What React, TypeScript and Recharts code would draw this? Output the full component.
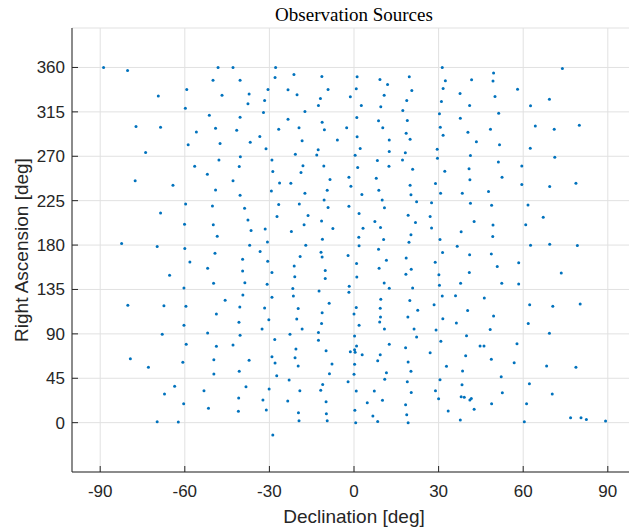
import React from 'react';
import { ScatterChart, Scatter, XAxis, YAxis, CartesianGrid } from 'recharts';

const declination = [
  -88.8, -80.3, -69.4, -77.3, -68.6, -73.9, -59.3, -59.8, -48.2, -42.9,
  -50.0, -40.4, -46.8, -37.2, -37.6, -51.3, -40.4, -55.9, -49.1, -41.6,
  -58.8, -47.5, -36.8, -40.3, -47.9, -56.5, -40.7,
  -27.8, -28.0, -21.3, -11.4, -30.5, -23.4, -20.2, -9.2, -11.9, -12.6,
  -1.3, -31.7, -32.1, -17.4, -23.4, -26.7, -19.5, -11.3, -10.5, -2.6,
  -33.4, -5.9, -18.4, -31.2, -20.8, -12.7, -13.2, -29.1, -18.1, -10.7,
  1.1, 0.8, 9.2, 11.9, 19.6, 20.5, 10.7, 18.7, 2.6, 9.5,
  17.3, 1.0, 8.7, 18.9, 10.2, 18.5, 19.9, 1.1, 12.5, 2.2,
  12.5, 18.2, 0.4, 8.3, 17.2, 1.3, 12.4, 20.8, 29.5, 29.6, 30.3,
  31.3, 32.4, 31.6, 31.0, 30.6, 31.6, 49.5, 41.7, 49.3, 37.6,
  50.0, 58.0, 41.0, 37.7, 51.3, 40.4, 48.4, 43.4, 51.6, 41.3,
  51.2, 40.8, 59.5, 62.5, 71.2, 64.3, 71.0, 79.9, 62.6, 69.3, 73.9,
  -77.6, -64.2, -52.0, -42.9, -49.1, -40.4, -59.7, -50.2, -38.8, -68.6,
  -60.1, -49.9, -37.6, -48.5, -82.4, -69.8, -60.0, -49.3, -58.2, -39.5,
  -51.9, -39.5, -65.4, -49.8, -38.7, -60.3, -39.4, -45.7, -80.2, -67.4,
  -59.6, -40.5, -48.8,
  -28.8, -18.8, -26.4, -22.4, -8.5, -1.8, -1.1, -29.3, -17.4, -9.5,
  -10.6, -26.7, -19.4, -9.2, -1.8, -27.3, -16.3, -11.5, -17.7, -7.5,
  -36.5, -31.5, -22.2, -11.2, -30.7, -37.0, -17.1, -33.3, -11.7, -11.3,
  -19.1, -30.6, -2.1, -21.2, -10.2, -29.1, -21.0, -10.2, -30.8, -21.7,
  -12.4, -1.7, -1.8, -29.1, -21.5, -8.8, -31.7, -19.8, -11.3, -30.2,
  -20.3, 0.8, 0.0, 7.9, 2.8, 8.8, 19.9, 20.2, 28.9, 10.0,
  10.8, 22.2, 27.5, 1.8, 19.2, 27.0, 7.4, 21.8, 9.4, 3.2,
  27.5, 1.7, 10.5, 20.2, 19.5, 1.8, 8.7, 11.5, 18.5, 8.9,
  20.3, 18.4, 28.8, 0.9, 1.0, 30.1, 10.7, 12.5, 20.8, 30.3,
  9.5, 19.8, 28.4, 9.3, 22.6, 19.1, 9.4,
  32.2, 41.1, 52.5, 59.5, 69.4, 78.7, 30.7, 38.4, 47.7, 41.3,
  48.8, 61.7, 67.1, 42.6, 49.3, 60.9, 38.0, 30.5, 49.2, 36.6,
  62.6, 69.4, 79.2, 31.4, 41.0, 48.7, 58.4, 50.8, 40.9, 73.5,
  37.8, 52.4, 58.4, 31.3, 36.0, 46.2, 62.3, 70.5, 80.2, 40.3, 49.5, 31.5,
  -60.3, -40.8, -68.0, -51.9, -40.4, -59.5, -48.8, -42.9, -79.3, -72.9,
  -60.7, -49.7, -37.2, -49.7, -40.7, -63.6, -53.2, -38.3, -67.2, -60.4,
  -40.9, -51.6, -41.0, -69.8, -62.3,
  -32.6, -18.4, -11.5, -22.7, -12.6, -28.1, -12.6, -20.6, -9.9, -29.1,
  -20.9, -28.0, -7.8, -19.8, -8.7, -27.4, -23.0, -11.1, -2.1, -30.1,
  -19.2, -11.8, -32.3, -23.5, -9.9, -31.1, -19.7, -9.8, -19.5, -9.5,
  -28.8, 1.8, 9.1, 10.8, 0.2, 21.3, 22.2, 29.1, 0.9, 0.2,
  0.4, -1.3, 2.9, 12.5, 18.3, 9.3, 8.4, 27.0, 19.2, 0.2,
  11.5, 20.2, 0.0, 10.9, 18.9, 0.8, 7.2, 20.3, 28.9, 4.7,
  10.1, 18.3, 30.0, 0.3, 6.7, 18.7, 8.4, 0.6, 19.2,
  36.3, 48.3, 61.8, 39.9, 69.3, 30.8, 44.7, 46.1, 57.8, 39.6,
  48.7, 56.8, 32.8, 38.5, 68.3, 78.7, 52.2, 30.5, 38.3, 62.2,
  38.0, 39.1, 41.6, 41.1, 52.6, 70.3, 48.8, 61.2, 33.4, 42.6,
  37.7, 60.4, 76.8, 80.5, 82.4, 89.2,
];

// right ascension [deg], same order as declination
const rightAscension = [
  360.0, 357.0, 331.2, 300.2, 299.5, 273.8, 337.7, 318.7, 360.0, 360.0,
  347.1, 347.1, 331.9, 333.2, 323.2, 311.6, 309.6, 294.7, 298.4, 296.4,
  281.6, 282.9, 284.3, 269.4, 266.1, 259.9, 259.6,
  360.0, 349.9, 352.9, 350.9, 337.7, 337.4, 332.3, 337.7, 328.6, 321.5,
  330.3, 326.6, 314.4, 315.4, 307.4, 297.5, 298.8, 304.6, 296.8, 298.8,
  290.0, 286.6, 285.6, 277.5, 272.1, 276.5, 271.4, 266.3, 260.5, 260.2,
  350.6, 338.4, 347.8, 342.8, 350.6, 336.7, 331.9, 326.6, 321.5, 320.1,
  316.4, 309.2, 305.9, 306.2, 298.8, 293.4, 287.3, 289.7, 286.6, 277.8,
  274.8, 273.5, 271.1, 265.7, 266.3, 258.6, 259.9, 256.9, 277.2, 268.1, 313.0,
  360.0, 346.5, 338.7, 325.6, 299.5, 291.4, 354.3, 347.5, 346.2, 333.6,
  330.6, 338.0, 321.5, 308.6, 313.7, 294.4, 297.5, 284.6, 281.6, 270.7,
  264.3, 257.3, 260.2, 278.2, 269.1, 300.8, 297.5, 301.5, 321.2, 327.9, 359.0,
  245.1, 240.7, 251.8, 245.1, 235.9, 230.5, 221.7, 219.7, 217.3, 212.6,
  201.0, 200.7, 205.5, 188.9, 181.5, 178.5, 176.4, 171.7, 162.9, 165.6,
  156.4, 153.7, 149.5, 141.3, 141.9, 136.5, 129.4, 124.0, 118.9, 118.6,
  117.9, 117.3, 110.2,
  254.5, 253.5, 243.0, 242.7, 246.4, 248.8, 239.7, 234.9, 232.5, 235.6,
  225.8, 221.1, 221.7, 218.0, 219.3, 208.9, 209.9, 204.5, 200.7, 196.7,
  194.7, 196.4, 193.7, 185.9, 183.2, 179.8, 179.8, 173.4, 172.7, 168.0,
  168.3, 163.6, 169.3, 158.9, 154.1, 152.1, 148.0, 146.0, 140.2, 135.9,
  133.5, 138.2, 132.1, 127.0, 128.4, 121.0, 116.2, 115.6, 111.5, 104.4,
  105.1, 116.6, 110.2, 247.8, 231.2, 235.6, 240.7, 230.9, 242.4, 225.8,
  217.7, 223.8, 222.8, 211.9, 210.3, 208.9, 203.9, 202.8, 197.7, 197.1,
  197.4, 187.9, 185.6, 190.5, 182.8, 179.2, 175.7, 164.6, 167.0, 156.5,
  155.4, 150.3, 162.6, 161.3, 147.7, 150.0, 141.6, 136.2, 136.5, 139.2,
  125.1, 123.7, 119.6, 115.9, 113.9, 107.1, 107.1,
  254.9, 246.1, 248.8, 241.3, 239.3, 242.7, 232.5, 232.5, 234.2, 222.4,
  220.4, 220.7, 208.2, 203.8, 200.4, 200.7, 193.4, 185.6, 188.6, 178.8,
  179.8, 180.8, 179.5, 172.4, 170.3, 171.0, 162.2, 158.2, 152.1, 151.8,
  141.3, 141.3, 140.6, 128.4, 128.7, 126.4, 119.6, 118.0, 120.3, 113.6, 108.2, 105.4,
  98.7, 101.7, 89.6, 90.9, 88.5, 79.4, 77.4, 78.7, 64.9, 56.1,
  61.2, 63.8, 63.2, 49.3, 52.0, 36.8, 32.4, 36.4, 29.0, 19.2,
  25.0, 14.5, 11.5, 1.0, 0.6,
  95.0, 95.0, 100.4, 89.6, 91.3, 84.2, 83.5, 74.7, 73.0, 66.9,
  65.9, 60.4, 59.4, 57.4, 49.6, 47.6, 43.2, 38.8, 41.5, 34.1,
  32.4, 32.8, 22.9, 21.9, 21.3, 12.8, 10.1, 9.1, 2.0, 2.0,
  -12.5, 98.7, 102.1, 95.0, 87.9, 95.0, 86.8, 93.9, 77.7, 74.0,
  71.3, 71.9, 68.9, 79.4, 76.0, 68.9, 62.8, 70.9, 61.5, 59.1,
  50.7, 52.0, 49.0, 43.9, 41.5, 32.0, 32.0, 30.7, 32.4, 20.2,
  22.6, 18.2, 24.3, 12.5, 6.7, 8.1, 1.3, 0.0, 0.0,
  101.1, 94.3, 100.4, 88.2, 90.6, 82.5, 77.7, 77.7, 80.1, 67.9,
  64.2, 60.8, 57.1, 52.3, 57.4, 56.1, 46.6, 43.5, 38.4, 39.5,
  26.3, 25.7, 24.6, 23.0, 30.4, 29.0, 19.2, 19.2, 11.8, 13.5,
  2.7, 1.0, 5.0, 5.0, 3.3, 1.6,
];

const decTicks = [-90, -60, -30, 0, 30, 60, 90];
const raTicks = [0, 45, 90, 135, 180, 225, 270, 315, 360];

const sources = declination.map((dec, i) => ({ dec, ra: rightAscension[i] }));

const AXIS = '#262626';
const FONT = '"Liberation Sans", Arial, Helvetica, sans-serif';

const BottomTick = (props: any) => {
  const { x, y, payload } = props;
  return (
    <g>
      <line x1={x} x2={x} y1={y} y2={y - 6} stroke={AXIS} strokeWidth={1} />
      <text x={x} y={y + 25} textAnchor="middle" fill={AXIS} fontSize={17} fontFamily={FONT}>
        {payload.value}
      </text>
    </g>
  );
};

const TopTick = (props: any) => {
  const { x, y } = props;
  return <line x1={x} x2={x} y1={y} y2={y + 6} stroke={AXIS} strokeWidth={1} />;
};

const LeftTick = (props: any) => {
  const { x, y, payload } = props;
  return (
    <g>
      <line x1={x} x2={x + 6} y1={y} y2={y} stroke={AXIS} strokeWidth={1} />
      <text x={x - 7} y={y + 6} textAnchor="end" fill={AXIS} fontSize={17} fontFamily={FONT}>
        {payload.value}
      </text>
    </g>
  );
};

const Dot = (props: any) => <circle cx={props.cx} cy={props.cy} r={1.5} fill="#0072BD" />;

export default function App() {
  return (
    <div
      style={{
        position: 'fixed',
        left: 0,
        top: 0,
        width: 629,
        height: 529,
        overflow: 'hidden',
        background: '#fff',
      }}
    >
      <ScatterChart width={650} height={529} margin={{ top: 28, right: 14, bottom: 0, left: 0 }}>
        <CartesianGrid stroke="#e1e1e1" strokeWidth={1} />
        <XAxis
          dataKey="dec"
          type="number"
          domain={[-100, 100]}
          ticks={decTicks}
          interval={0}
          height={57}
          tickSize={0}
          tickMargin={0}
          tick={<BottomTick />}
          axisLine={{ stroke: AXIS, strokeWidth: 1 }}
          label={() => (
            <text x={354} y={523} textAnchor="middle" fill={AXIS} fontSize={19} fontFamily={FONT}>
              Declination [deg]
            </text>
          )}
        />
        <XAxis
          xAxisId="top"
          orientation="top"
          type="number"
          domain={[-100, 100]}
          allowDataOverflow
          ticks={decTicks}
          interval={0}
          height={0}
          tickSize={0}
          tickMargin={0}
          tick={<TopTick />}
          axisLine={{ stroke: AXIS, strokeWidth: 1 }}
        />
        <YAxis
          dataKey="ra"
          type="number"
          domain={[-50, 400]}
          allowDataOverflow
          ticks={raTicks}
          interval={0}
          width={72}
          tickSize={0}
          tickMargin={0}
          tick={<LeftTick />}
          axisLine={{ stroke: AXIS, strokeWidth: 1 }}
          label={() => (
            <text
              x={28}
              y={250}
              transform="rotate(-90 28 250)"
              textAnchor="middle"
              fill={AXIS}
              fontSize={19}
              fontFamily={FONT}
            >
              Right Ascension [deg]
            </text>
          )}
        />
        <Scatter data={sources} shape={<Dot />} isAnimationActive={false} />
      </ScatterChart>
      <div
        style={{
          position: 'absolute',
          left: 0,
          top: 4,
          width: 708,
          textAlign: 'center',
          fontFamily: '"Liberation Serif", "DejaVu Serif", serif',
          fontSize: 19,
          color: '#000',
        }}
      >
        Observation Sources
      </div>
    </div>
  );
}
